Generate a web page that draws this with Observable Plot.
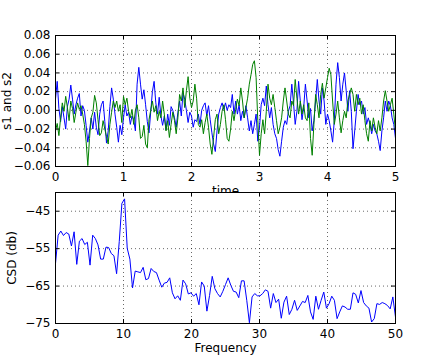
<!DOCTYPE html>
<html><head><meta charset="utf-8">
<script src="https://cdn.jsdelivr.net/npm/d3@7"></script>
<script src="https://cdn.jsdelivr.net/npm/@observablehq/plot@0.6"></script>
<style>
body{margin:0;background:#fff;}
#wrap{position:relative;width:440px;height:360px;overflow:hidden;background:#fff;}
#wrap svg{position:absolute;left:0;background:transparent;}
</style></head><body><div id="wrap"></div>
<script>
// s1 (blue) and s2 (green), sampled every 0.025 s from 0 to 5 s
const s1 = [0.012,0.031,0.002,-0.012,0.004,-0.008,-0.02,0.004,0.012,0.027,
0.012,-0.004,0.006,0.013,0.018,-0.006,0.005,0.0,-0.016,-0.034,
-0.022,-0.008,-0.02,-0.002,-0.018,-0.026,-0.004,0.006,0.01,-0.012,
-0.035,-0.022,0.004,0.024,0.012,-0.004,-0.018,-0.034,-0.016,-0.026,
-0.008,0.006,-0.006,-0.002,-0.015,-0.006,-0.01,-0.022,0.028,0.046,
0.028,0.012,0.022,0.006,-0.012,-0.024,-0.002,0.02,0.031,0.008,
-0.004,0.014,-0.006,-0.016,-0.006,-0.021,-0.004,-0.016,0.004,0.0,
-0.008,-0.018,-0.002,0.01,-0.006,0.019,0.012,0.0,-0.013,-0.002,
-0.006,-0.018,-0.01,-0.012,-0.004,-0.015,0.0,0.005,0.008,-0.006,
0.005,-0.01,-0.024,-0.036,-0.044,-0.022,-0.004,0.003,0.008,0.001,
0.008,0.0,0.006,0.003,0.017,-0.004,0.01,-0.004,0.006,-0.011,
-0.001,-0.008,0.005,-0.008,-0.022,-0.011,-0.025,-0.015,-0.004,-0.033,
-0.018,0.006,0.013,0.005,0.026,0.006,-0.008,0.003,-0.015,-0.025,
-0.03,-0.042,-0.049,-0.033,-0.018,-0.011,-0.015,-0.001,0.005,0.028,
0.008,-0.015,-0.001,0.031,0.01,-0.01,0.003,0.028,0.01,-0.008,
0.002,-0.022,-0.011,0.01,0.033,0.01,-0.004,0.024,0.01,-0.015,
-0.004,-0.011,-0.022,-0.034,-0.011,0.028,0.051,0.035,0.01,0.028,
0.04,0.021,-0.001,0.021,-0.001,-0.041,-0.022,-0.001,0.017,0.006,
0.01,-0.004,0.003,-0.015,-0.008,-0.015,-0.025,-0.015,-0.022,-0.025,
-0.033,-0.043,-0.022,-0.008,0.01,-0.001,0.01,0.005,-0.008,-0.015,
-0.03];
const s2 = [-0.022,-0.014,-0.027,-0.008,0.008,-0.001,0.015,0.003,-0.011,0.01,
0.002,-0.013,-0.002,0.008,0.001,0.005,-0.004,-0.015,-0.033,-0.059,
-0.03,-0.008,-0.002,0.016,0.008,-0.01,-0.027,-0.024,-0.011,-0.02,
-0.028,-0.036,-0.015,-0.002,0.01,0.003,0.01,-0.001,0.006,-0.013,
0.015,0.006,0.013,-0.001,-0.008,0.001,-0.015,0.0,0.006,-0.008,
-0.03,-0.028,-0.016,-0.036,-0.04,-0.01,0.0,0.01,-0.002,0.005,
-0.011,-0.001,-0.008,0.01,-0.004,-0.022,-0.011,-0.029,-0.015,-0.002,
-0.011,-0.025,-0.008,0.017,0.01,0.024,0.003,0.021,0.036,0.013,
0.003,0.01,0.028,0.013,-0.015,-0.018,-0.01,-0.025,-0.013,-0.004,
-0.018,-0.036,-0.047,-0.029,-0.01,-0.004,-0.025,-0.015,-0.001,0.006,
-0.01,-0.03,-0.033,-0.02,-0.001,-0.011,0.001,0.012,0.005,0.024,
0.01,-0.008,0.003,0.013,0.028,0.038,0.049,0.053,0.035,-0.011,
-0.048,-0.025,-0.01,-0.025,-0.001,0.028,0.013,0.006,0.017,0.003,
-0.011,-0.025,-0.018,-0.008,0.01,0.024,0.01,-0.004,-0.008,0.01,
0.005,0.033,0.013,-0.004,0.01,-0.004,0.006,-0.008,-0.011,0.008,
-0.03,-0.048,-0.015,0.017,0.006,-0.008,0.017,0.029,0.013,0.024,
0.035,0.045,0.038,0.01,-0.015,-0.004,0.01,-0.008,-0.024,-0.011,
-0.001,-0.008,0.01,0.017,0.024,0.017,-0.001,0.017,0.006,0.013,
-0.004,0.006,-0.011,-0.025,-0.033,-0.011,-0.022,-0.008,-0.018,-0.025,
-0.011,-0.022,-0.008,0.01,0.021,0.01,-0.001,0.006,0.013,-0.004,
-0.022];
// cross spectral density (dB), bins of 100/256 Hz from 0 to 50 Hz
const csd = [-59,-51.4,-50.3,-51.5,-50.7,-51.1,-54.3,-50.5,-59.2,-53,
-52.3,-53.9,-53.3,-59.4,-51.4,-52.3,-54,-57.8,-57.8,-54.6,
-54.7,-56.3,-56.9,-61.7,-53.1,-42.9,-41.7,-54.9,-57.8,-65.5,
-61,-61.2,-61.4,-60,-63.3,-63,-60.3,-61.1,-61.4,-63.4,
-65.3,-64.2,-64,-62.8,-66.8,-68.4,-67.6,-68.8,-63.4,-64.4,
-67.1,-66.8,-67.7,-67,-70,-63.9,-65,-71.7,-67.5,-62.4,
-65.7,-67,-67.9,-66.4,-64.6,-62.8,-64.8,-66.4,-66.6,-68.1,
-63.6,-63.6,-68.8,-74.8,-67.9,-67,-67.6,-67.6,-67,-66,
-66.4,-70.9,-67,-69.4,-68.5,-73.6,-69.3,-67.7,-72.6,-71.2,
-68.8,-71.5,-70.3,-69.1,-69.4,-67.5,-71.9,-73.9,-67.7,-71.2,
-68.8,-66.6,-70.9,-69.7,-67.7,-68.8,-73.7,-71.9,-70.3,-70.6,
-71.2,-71.2,-66.8,-67.2,-69.5,-66.2,-69.4,-70.3,-70.9,-74.6,
-73.7,-69.7,-69.9,-69.4,-69.7,-70.2,-71.1,-67.9,-73.3];

const timeTicks = [0, 1, 2, 3, 4, 5];
const sTicks = [-0.06, -0.04, -0.02, 0, 0.02, 0.04, 0.06, 0.08];
const freqTicks = [0, 10, 20, 30, 40, 50];
const dbTicks = [-75, -65, -55, -45];
const dt = 0.025, df = 100 / 256;

const time = s1.map((_, i) => i * dt);
const freq = csd.map((_, i) => i * df);
const sig = [
  ...s1.map((v, i) => ({t: time[i], v, s: "s1"})),
  ...s2.map((v, i) => ({t: time[i], v, s: "s2"}))
];
const spec = csd.map((v, i) => ({f: freq[i], v}));

const FONT = "DejaVu Sans";
const innerW = 340, innerH = 131;
const gridStyle = {stroke: "#000", strokeOpacity: 0.85, strokeWidth: 0.7, strokeDasharray: "1,3"};

function inwardTicks(xt, yt) {
  return [
    Plot.tickX(xt, {x: d => d, insetTop: innerH - 4, stroke: "#000"}),
    Plot.tickX(xt, {x: d => d, insetBottom: innerH - 4, stroke: "#000"}),
    Plot.tickY(yt, {y: d => d, insetRight: innerW - 4, stroke: "#000"}),
    Plot.tickY(yt, {y: d => d, insetLeft: innerW - 4, stroke: "#000"})
  ];
}

const topPlot = Plot.plot({
  width: 440, height: 200,
  marginLeft: 55, marginRight: 45, marginTop: 35, marginBottom: 34,
  style: {fontFamily: FONT, fontSize: "12px", background: "transparent", color: "#000", overflow: "visible"},
  x: {domain: [0, 5]},
  y: {domain: [-0.06, 0.08]},
  marks: [
    Plot.gridX(timeTicks, gridStyle),
    Plot.gridY(sTicks, gridStyle),
    Plot.lineY(sig, {x: "t", y: "v", z: "s", stroke: d => d.s === "s1" ? "#0000ff" : "#008000", strokeWidth: 1, clip: true}),
    ...inwardTicks(timeTicks, sTicks),
    Plot.frame({stroke: "#000"}),
    Plot.axisX(timeTicks, {tickSize: 0, tickPadding: 5.5, tickFormat: d3.format("d"), label: null}),
    Plot.axisY(sTicks, {tickSize: 0, tickPadding: 5, tickFormat: d3.format(".2f"), label: null}),
    Plot.text(["time"], {frameAnchor: "bottom", dy: 28, lineAnchor: "bottom", textAnchor: "middle", fontSize: 12}),
    Plot.text(["s1 and s2"], {frameAnchor: "left", dx: -45, rotate: -90, lineAnchor: "bottom", textAnchor: "middle", fontSize: 12})
  ]
});
topPlot.style.top = "0px";

const bottomPlot = Plot.plot({
  width: 440, height: 190,
  marginLeft: 55, marginRight: 45, marginTop: 22, marginBottom: 37,
  style: {fontFamily: FONT, fontSize: "12px", background: "transparent", color: "#000", overflow: "visible"},
  x: {domain: [0, 50]},
  y: {domain: [-75, -40]},
  marks: [
    Plot.frame({fill: "white"}),
    Plot.gridX(freqTicks, gridStyle),
    Plot.gridY(dbTicks, gridStyle),
    Plot.lineY(spec, {x: "f", y: "v", stroke: "#0000ff", strokeWidth: 1, clip: true}),
    ...inwardTicks(freqTicks, dbTicks),
    Plot.frame({stroke: "#000"}),
    Plot.axisX(freqTicks, {tickSize: 0, tickPadding: 5.5, tickFormat: d3.format("d"), label: null}),
    Plot.axisY(dbTicks, {tickSize: 0, tickPadding: 5, tickFormat: d3.format("d"), label: null}),
    Plot.text(["Frequency"], {frameAnchor: "bottom", dy: 28, lineAnchor: "bottom", textAnchor: "middle", fontSize: 12}),
    Plot.text(["CSD (db)"], {frameAnchor: "left", dx: -40, rotate: -90, lineAnchor: "bottom", textAnchor: "middle", fontSize: 12})
  ]
});
bottomPlot.style.top = "170px";

const wrap = document.getElementById("wrap");
wrap.appendChild(topPlot);
wrap.appendChild(bottomPlot);
</script></body></html>
